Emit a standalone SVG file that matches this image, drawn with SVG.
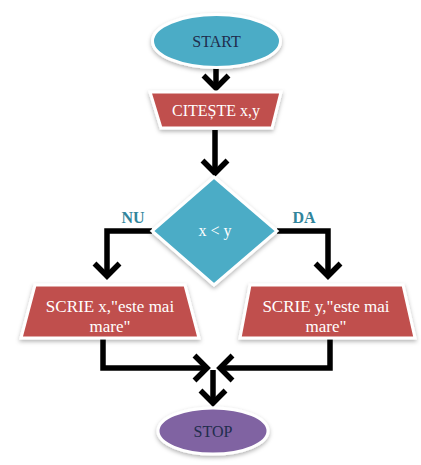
<svg xmlns="http://www.w3.org/2000/svg" width="421" height="465" viewBox="0 0 421 465">
<style>
.shape{stroke:#fff;stroke-width:3;filter:url(#sh)}
.blue{fill:#4bacc6}
.red{fill:#c0504d}
.purple{fill:#8064a2}
.t{font-family:"Liberation Serif",serif;font-size:16px;text-anchor:middle}
.tw{fill:#fff}
.td{fill:#1f2d4d}
.tl{font-family:"Liberation Serif",serif;font-size:16px;font-weight:bold;fill:#31859c;text-anchor:middle}
.big{font-size:17px}
.con{fill:none;stroke:#000;stroke-width:5.5;marker-end:url(#arr)}
</style>
<defs>
<filter id="sh" x="-20%" y="-20%" width="140%" height="150%">
<feDropShadow dx="0" dy="2" stdDeviation="2" flood-color="#000" flood-opacity="0.3"/>
</filter>
<marker id="arr" viewBox="-18 -16 23 32" refX="0" refY="0" markerWidth="23" markerHeight="32" markerUnits="userSpaceOnUse" orient="auto">
<path d="M-12.5,-12.5 L0,0 L-12.5,12.5" fill="none" stroke="#000" stroke-width="5.5"/>
</marker>
</defs>
<g id="connectors">
<path class="con" d="M216,68 V88"/>
<path class="con" d="M215,130 V173"/>
<path class="con" d="M152,231 H107 V276"/>
<path class="con" d="M277,231 H328 V276"/>
<path class="con" d="M103,339 V368 H207"/>
<path class="con" d="M330,339 V368 H220"/>
<path class="con" d="M213,370 V403"/>
</g>
<g id="start">
<ellipse class="shape blue" cx="216.5" cy="41" rx="64" ry="26.5"/>
<text class="t td" x="216.5" y="46.5">START</text>
</g>
<g id="citeste">
<polygon class="shape red" points="150,92 281,92 272,128 161,128"/>
<text class="t tw" x="216" y="116">CITEȘTE x,y</text>
</g>
<g id="decision">
<polygon class="shape blue" points="214,177 277,231 214,285 152,231"/>
<text class="t tw" x="215" y="236">x &lt; y</text>
</g>
<g id="label-nu"><text class="tl" x="133" y="223">NU</text></g>
<g id="label-da"><text class="tl" x="304" y="223">DA</text></g>
<g id="scrie-x">
<polygon class="shape red" points="35,285 185,285 199,338 21,338"/>
<text class="t tw big" x="110" y="312">SCRIE x,"este mai</text>
<text class="t tw big" x="110" y="332">mare"</text>
</g>
<g id="scrie-y">
<polygon class="shape red" points="250,285 403,285 415,338 240,338"/>
<text class="t tw big" x="326" y="312">SCRIE y,"este mai</text>
<text class="t tw big" x="326" y="332">mare"</text>
</g>
<g id="stop">
<ellipse class="shape purple" cx="213" cy="431" rx="55" ry="23"/>
<text class="t td" x="213" y="437">STOP</text>
</g>
</svg>
